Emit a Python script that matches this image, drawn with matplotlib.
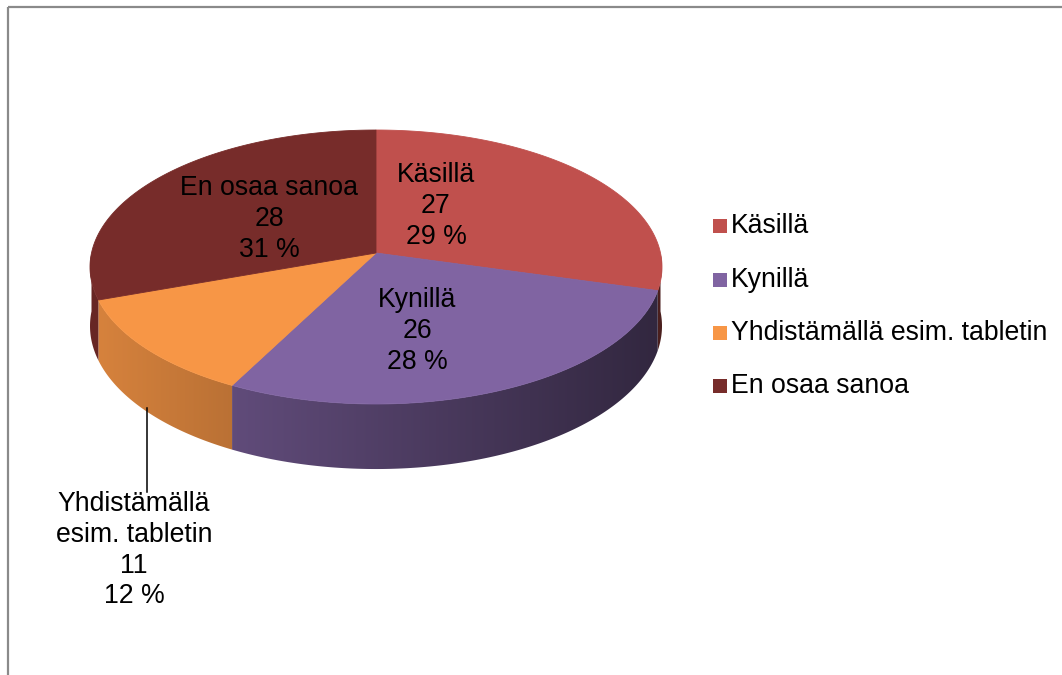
import numpy as np
import matplotlib
matplotlib.use("Agg")
import matplotlib.pyplot as plt
from matplotlib.patches import Polygon
from matplotlib.colors import to_rgb

plt.rcParams['font.family'] = ['Liberation Sans', 'DejaVu Sans']

# data
legend_labels = ["Käsillä", "Kynillä", "Yhdistämällä esim. tabletin", "En osaa sanoa"]
label_names = ["Käsillä", "Kynillä", "Yhdistämällä\nesim. tabletin", "En osaa sanoa"]
counts = [27, 26, 11, 28]
percents = [29, 28, 12, 31]
colors = ["#c0504d", "#8064a2", "#f79646", "#772c2a"]

# geometry of the tilted pie (pixel space, y down)
CX, CY = 376, 253       # projected centre
A, B, W = 284.5, -109.7, 0.1022
DEPTH = 58.4
FS = 19.2


def project(theta_deg, drop=0.0):
    t = np.radians(theta_deg)
    u, v = np.sin(t), np.cos(t)
    den = 1 + W * v
    return CX + A * u / den, (CY + B * v + drop) / den


def shade(x):
    return np.clip(0.87 - 0.00085 * (x - 95), 0.3, 1.0)


fig = plt.figure(figsize=(10.62, 6.75), dpi=100)
ax = fig.add_axes([0, 0, 1, 1])
ax.set_xlim(0, 1062)
ax.set_ylim(675, 0)
ax.axis("off")

# outer frame (only left and top edges fall inside the picture)
ax.plot([8, 8], [675, 7], color="#8a8a8a", lw=1.6, solid_capstyle="butt")
ax.plot([8, 1062], [7, 7], color="#8a8a8a", lw=1.6, solid_capstyle="butt")

bounds = np.concatenate([[0], np.cumsum(counts)]) / sum(counts) * 360

# side walls (front half only), filled with a left-to-right shading
for i, col in enumerate(colors):
    t0, t1 = max(bounds[i], 90), min(bounds[i + 1], 270)
    if t1 <= t0:
        continue
    th = np.linspace(t0, t1, 200)
    xt, yt = project(th)
    xb, yb = project(th, DEPTH)
    pts = np.column_stack([np.concatenate([xt, xb[::-1]]),
                           np.concatenate([yt, yb[::-1]])])
    poly = Polygon(pts, closed=True, facecolor="none", edgecolor="none")
    ax.add_patch(poly)
    x0, x1 = pts[:, 0].min() - 2, pts[:, 0].max() + 2
    y0, y1 = pts[:, 1].min() - 2, pts[:, 1].max() + 2
    gx = np.linspace(x0, x1, 400)
    grad = np.array(to_rgb(col))[None, :] * shade(gx)[:, None]
    im = ax.imshow(grad[None, :, :], extent=[x0, x1, y1, y0],
                   aspect="auto", interpolation="bilinear", zorder=1)
    im.set_clip_path(poly)

# top faces
for i, col in enumerate(colors):
    th = np.linspace(bounds[i], bounds[i + 1], 200)
    x, y = project(th)
    px = np.concatenate([[CX], x])
    py = np.concatenate([[CY], y])
    ax.fill(px, py, facecolor=col, edgecolor=col, lw=0.6, zorder=2)

ax.set_xlim(0, 1062)
ax.set_ylim(675, 0)

# data labels: first-line baselines
label_pos = [(436, 182), (417, 307), (134, 511), (269, 195)]
line_gap = 30.8
for name, n, p, (lx, ly) in zip(label_names, counts, percents, label_pos):
    lines = name.split("\n") + [str(n), f"{p} %"]
    for k, s in enumerate(lines):
        ax.text(lx, ly + k * line_gap, s, fontsize=FS, ha="center",
                va="baseline", color="black", zorder=5)

# leader line for the small slice
ax.plot([147, 147], [408, 492], color="black", lw=1.1, zorder=4)

# legend
leg_y = [233, 287, 340, 393]
for lab, col, yy in zip(legend_labels, colors, leg_y):
    ax.add_patch(plt.Rectangle((713, yy - 14), 14, 14, facecolor=col,
                               edgecolor="none"))
    ax.text(731, yy, lab, fontsize=FS, ha="left", va="baseline", color="black")

fig.savefig("out.png", dpi=100)
